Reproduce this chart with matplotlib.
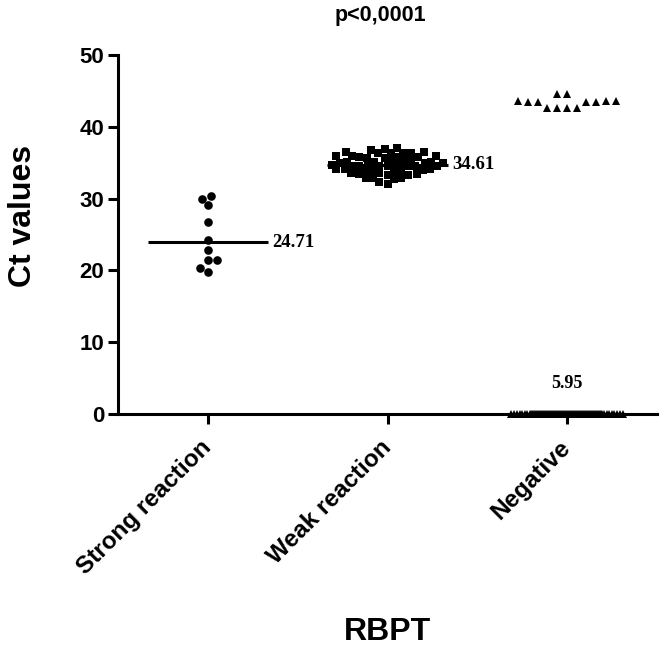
import numpy as np
import matplotlib
matplotlib.use("Agg")
import matplotlib.pyplot as plt
from matplotlib.transforms import ScaledTranslation

# ---------------- data ----------------
categories = ["Strong reaction", "Weak reaction", "Negative"]

strong = [30.3, 30.0, 29.1, 26.7, 24.2, 22.8, 21.4, 21.4, 20.4, 19.8]

weak = [37.0, 36.9, 36.8,
        36.5, 36.4, 36.3, 36.4, 36.5, 36.3,
        35.9, 35.8, 35.7, 35.8, 35.9, 35.7, 35.8, 35.9,
        35.2, 35.1, 35.0, 35.1, 35.2, 35.0, 35.1, 35.2, 35.0,
        34.7, 34.6, 34.5, 34.6, 34.7, 34.5, 34.6, 34.7, 34.5, 34.6,
        34.1, 34.0, 33.9, 34.0, 34.1, 33.9, 34.0, 34.1,
        33.5, 33.4, 33.3, 33.4, 33.5, 33.3,
        32.9, 32.8, 32.9, 32.7,
        32.3, 32.1]

negative_positive = [44.6, 44.6, 43.6, 43.6, 43.6, 43.5, 43.4, 43.4, 43.4,
                     42.6, 42.6, 42.6, 42.6]
negative_zero = [0.0] * 88
negative = negative_positive + negative_zero

mean_labels = ["24.71", "34.61", "5.95"]
mean_line_levels = [23.9, 34.7]      # drawn mean lines (strong, weak)
negative_label_level = 4.2
p_text = "p<0,0001"
y_ticks = [0, 10, 20, 30, 40, 50]

# ---------------- figure ----------------
W, H = 664, 652
fig = plt.figure(figsize=(W / 100, H / 100), dpi=100)
ax = fig.add_axes([118 / W, 1 - 414 / H, (657 - 118) / W, (414 - 55) / H])
ax.set_xlim(0.5, 3.5)
ax.set_ylim(0, 50)

sans = ["Liberation Sans", "DejaVu Sans"]
serif = ["Liberation Serif", "DejaVu Serif"]


def swarm(values, center, d_px, max_half_px):
    vals = np.asarray(values, dtype=float)
    pts = ax.transData.transform(np.column_stack([np.full(len(vals), center), vals]))
    ys = pts[:, 1]
    cx = pts[0, 0]
    cands = np.arange(-max_half_px, max_half_px + 0.01, 1.0)
    cands = cands[np.argsort(np.abs(cands), kind="stable")]
    px, py = [], []
    xs = np.empty(len(vals))
    for i in np.argsort(ys, kind="stable"):
        y = ys[i]
        if px:
            PX = np.array(px)
            PY = np.array(py)
            dist = np.sqrt((cands[:, None] - PX[None, :]) ** 2 + (y - PY[None, :]) ** 2).min(axis=1)
            ok = np.nonzero(dist >= d_px)[0]
            c = cands[ok[0]] if len(ok) else cands[np.argmax(dist)]
        else:
            c = 0.0
        px.append(c)
        py.append(y)
        xs[i] = cx + c
    back = ax.transData.inverted().transform(np.column_stack([xs, ys]))
    return back[:, 0], vals


groups = [strong, weak, negative]
markers = ["o", "s", "^"]
msizes = [6.2, 5.4, 6.3]
dpx = [8.5, 7.3, 10.0]
for i, (vals, m, ms, d) in enumerate(zip(groups, markers, msizes, dpx)):
    x, y = swarm(vals, i + 1, d, 56)
    ax.plot(x, y, linestyle="none", marker=m, markersize=ms, color="black",
            markeredgewidth=0, clip_on=False, zorder=3)

half = 0.334
for i, lvl in enumerate(mean_line_levels):
    ax.hlines(lvl, i + 1 - half, i + 1 + half, color="black", lw=2.2, zorder=4)
    ax.text(i + 1 + half + 0.025, lvl, mean_labels[i], ha="left", va="center",
            fontsize=13.5, fontweight="bold", family=serif)
ax.text(3, negative_label_level, mean_labels[2], ha="center", va="center",
        fontsize=13, fontweight="bold", family=serif)

# axes styling
for s in ["top", "right"]:
    ax.spines[s].set_visible(False)
for s in ["left", "bottom"]:
    ax.spines[s].set_linewidth(2.2)
ax.set_xticks([1, 2, 3])
ax.set_xticklabels(categories, rotation=45, ha="right", rotation_mode="anchor",
                   fontsize=17.5, fontweight="bold", family=sans)
ax.set_yticks(y_ticks)
ax.set_yticklabels([str(t) for t in y_ticks], fontsize=16, fontweight="bold", family=sans)
ax.tick_params(axis="both", length=7, width=2.2, direction="out")
ax.tick_params(axis="x", pad=9)
ax.tick_params(axis="y", pad=3)
shift = ScaledTranslation(-8 / 100, 0, fig.dpi_scale_trans)
for lab in ax.get_xticklabels():
    lab.set_transform(lab.get_transform() + shift)

fig.text(23 / W, 1 - 216 / H, "Ct values", rotation=90, ha="center", va="center",
         fontsize=23, fontweight="bold", family=sans)
fig.text(387 / W, 1 - 632 / H, "RBPT", ha="center", va="center",
         fontsize=23, fontweight="bold", family=sans)
fig.text(380 / W, 1 - 16 / H, p_text, ha="center", va="center",
         fontsize=15.5, fontweight="bold", family=sans)

fig.savefig("out.png", dpi=100, facecolor="white")
